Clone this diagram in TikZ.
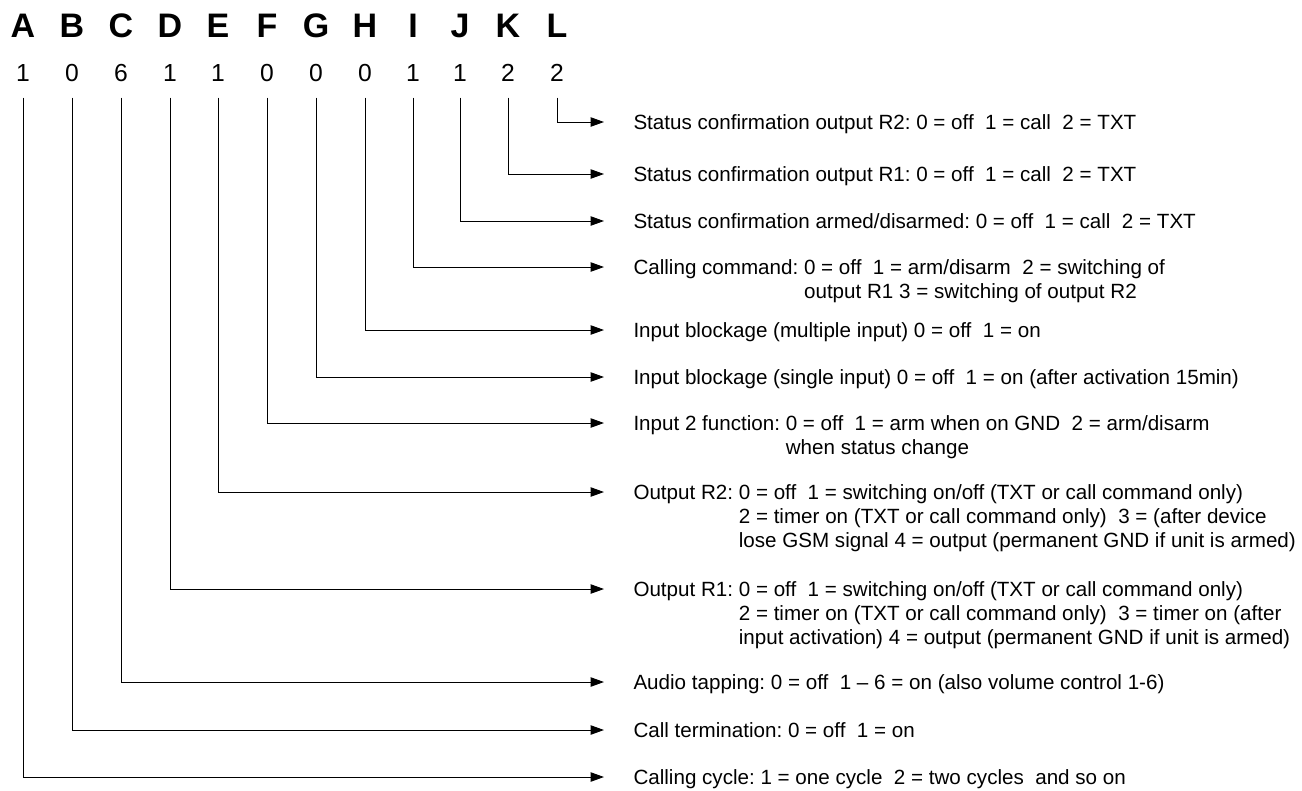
\documentclass[tikz,border=0pt]{standalone}
\usepackage{fontspec}
\setmainfont{Liberation Sans}
\frenchspacing
\usetikzlibrary{arrows.meta}

\begin{document}
\begin{tikzpicture}[x=0.75pt, y=-0.75pt, >={Triangle[length=10pt, width=7pt]}, line width=0.75pt,
    letter/.style={font=\fontsize{25.5pt}{30pt}\selectfont\bfseries, anchor=base, inner sep=0pt},
    digit/.style={font=\fontsize{18.5pt}{22pt}\selectfont, anchor=base, inner sep=0pt},
    desc/.style={font=\fontsize{15.45pt}{18pt}\selectfont, align=left, inner sep=0pt,
        anchor=north west, xshift=21.75pt, yshift=7.1pt}]
    \useasboundingbox (0,0) rectangle (1302,790);

    % Header letters and code digits
    \node[letter] (lA) at (23,37) {A};  \node[digit] (nA) at (23,81) {1};
    \node[letter] (lB) at (72,37) {B};  \node[digit] (nB) at (72,81) {0};
    \node[letter] (lC) at (121,37) {C}; \node[digit] (nC) at (121,81) {6};
    \node[letter] (lD) at (170,37) {D}; \node[digit] (nD) at (170,81) {1};
    \node[letter] (lE) at (218,37) {E}; \node[digit] (nE) at (218,81) {1};
    \node[letter] (lF) at (267,37) {F}; \node[digit] (nF) at (267,81) {0};
    \node[letter] (lG) at (316,37) {G}; \node[digit] (nG) at (316,81) {0};
    \node[letter] (lH) at (365,37) {H}; \node[digit] (nH) at (365,81) {0};
    \node[letter] (lI) at (413,37) {I}; \node[digit] (nI) at (413,81) {1};
    \node[letter] (lJ) at (460,37) {J}; \node[digit] (nJ) at (460,81) {1};
    \node[letter] (lK) at (508,37) {K}; \node[digit] (nK) at (508,81) {2};
    \node[letter] (lL) at (557,37) {L}; \node[digit] (nL) at (557,81) {2};

    % Arrow tips
    \coordinate (tL) at (604,122);
    \coordinate (tK) at (604,174);
    \coordinate (tJ) at (604,221);
    \coordinate (tI) at (604,267);
    \coordinate (tH) at (604,330);
    \coordinate (tG) at (604,377);
    \coordinate (tF) at (604,423);
    \coordinate (tE) at (604,492);
    \coordinate (tD) at (604,589);
    \coordinate (tC) at (604,682);
    \coordinate (tB) at (604,730);
    \coordinate (tA) at (604,777);

    % Connectors
    \draw[->] ([yshift=-12pt]nL.south) |- (tL);
    \draw[->] ([yshift=-12pt]nK.south) |- (tK);
    \draw[->] ([yshift=-12pt]nJ.south) |- (tJ);
    \draw[->] ([yshift=-12pt]nI.south) |- (tI);
    \draw[->] ([yshift=-12pt]nH.south) |- (tH);
    \draw[->] ([yshift=-12pt]nG.south) |- (tG);
    \draw[->] ([yshift=-12pt]nF.south) |- (tF);
    \draw[->] ([yshift=-12pt]nE.south) |- (tE);
    \draw[->] ([yshift=-12pt]nD.south) |- (tD);
    \draw[->] ([yshift=-12pt]nC.south) |- (tC);
    \draw[->] ([yshift=-12pt]nB.south) |- (tB);
    \draw[->] ([yshift=-12pt]nA.south) |- (tA);

    % Descriptions
    \node[desc] (dL) at (tL) {\strut Status confirmation output R2: 0 = off~~1 = call~~2 = TXT};
    \node[desc] (dK) at (tK) {\strut Status confirmation output R1: 0 = off~~1 = call~~2 = TXT};
    \node[desc] (dJ) at (tJ) {\strut Status confirmation armed/disarmed: 0 = off~~1 = call~~2 = TXT};
    \node[desc] (dI) at (tI) {\strut Calling command: 0 = off~~1 = arm/disarm~~2 = switching of\\
        \hphantom{Calling command: }output R1 3 = switching of output R2};
    \node[desc] (dH) at (tH) {\strut Input blockage (multiple input) 0 = off~~1 = on};
    \node[desc] (dG) at (tG) {\strut Input blockage (single input) 0 = off~~1 = on (after activation 15min)};
    \node[desc] (dF) at (tF) {\strut Input 2 function: 0 = off~~1 = arm when on GND~~2 = arm/disarm\\
        \hphantom{Input 2 function: }when status change};
    \node[desc] (dE) at (tE) {\strut Output R2: 0 = off~~1 = switching on/off (TXT or call command only)\\
        \hphantom{Output R2: }2 = timer on (TXT or call command only)~~3 = (after device\\
        \hphantom{Output R2: }lose GSM signal 4 = output (permanent GND if unit is armed)};
    \node[desc] (dD) at (tD) {\strut Output R1: 0 = off~~1 = switching on/off (TXT or call command only)\\
        \hphantom{Output R1: }2 = timer on (TXT or call command only)~~3 = timer on (after\\
        \hphantom{Output R1: }input activation) 4 = output (permanent GND if unit is armed)};
    \node[desc] (dC) at (tC) {\strut Audio tapping: 0 = off~~1 -- 6 = on (also volume control 1-6)};
    \node[desc] (dB) at (tB) {\strut Call termination: 0 = off~~1 = on};
    \node[desc] (dA) at (tA) {\strut Calling cycle: 1 = one cycle~~2 = two cycles~~and so on};
\end{tikzpicture}
\end{document}
